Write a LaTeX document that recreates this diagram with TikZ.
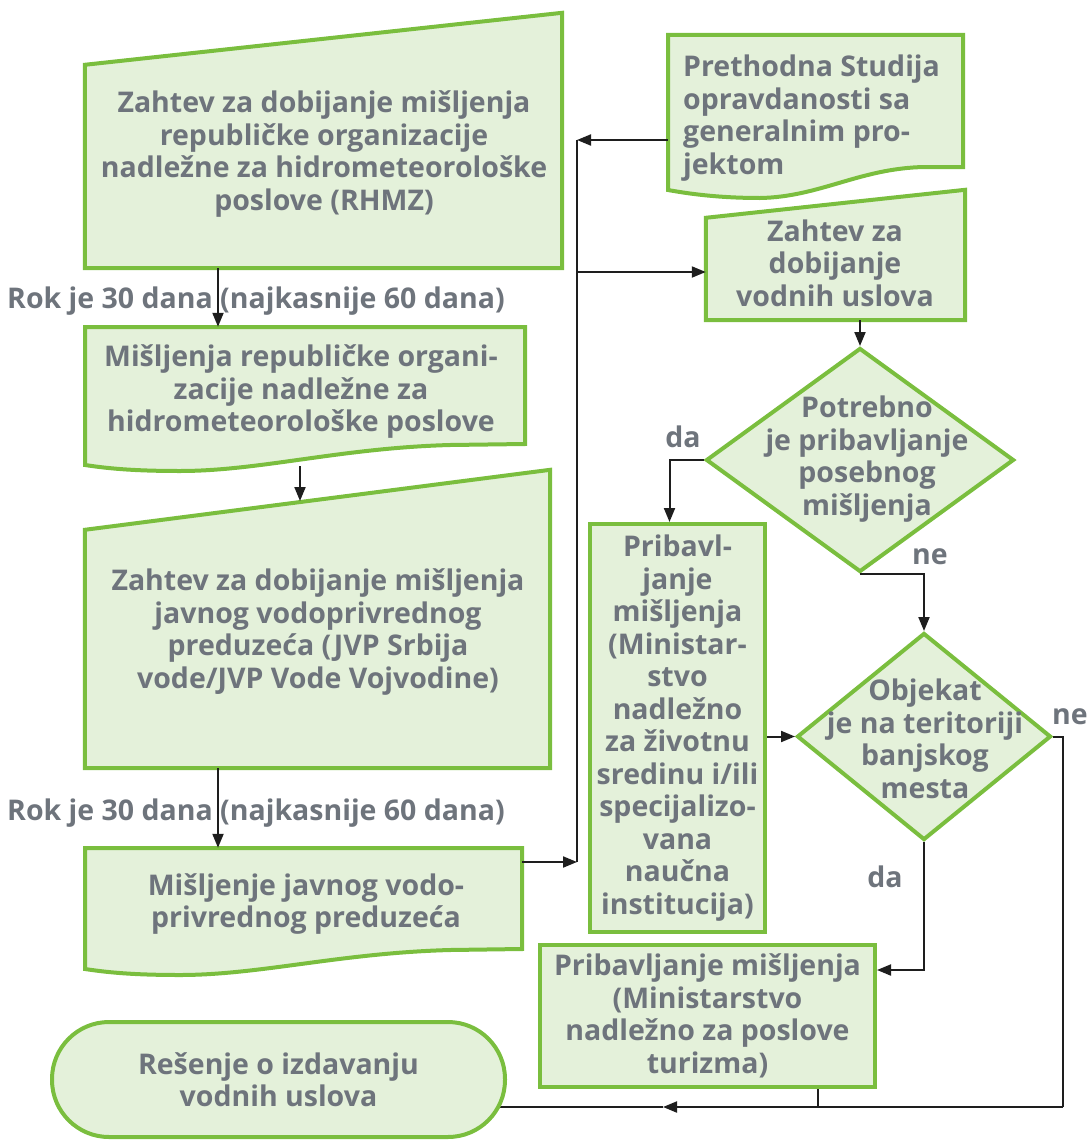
\documentclass[tikz,border=0pt]{standalone}
\usepackage{fontspec}
\setmainfont{Open Sans}
\usetikzlibrary{arrows.meta,shapes.geometric,calc}
\definecolor{frame}{RGB}{122,190,62}
\definecolor{paper}{RGB}{228,241,218}
\definecolor{ink}{RGB}{110,116,124}
\definecolor{wirec}{RGB}{30,30,30}
\pgfdeclarelayer{background}
\pgfsetlayers{background,main}
\begin{document}
\begin{tikzpicture}[x=1pt,y=-1pt,
  txt/.style={text=ink,font=\fontsize{28.5}{32.5}\selectfont\bfseries,align=center,inner sep=0pt},
  shapeline/.style={draw=frame,fill=paper,line width=4pt,line join=miter},
  bbox/.style={draw=none,inner sep=0pt},
  wire/.style={draw=wirec,line width=2pt},
  arr/.style={wire,-{Triangle[length=14pt,width=11pt]}},
  box/.style={shapeline,txt,rectangle}]
\useasboundingbox (0,0) rectangle (1088,1140);

% ---- left column ----
\node[bbox,minimum width=477,minimum height=255] (b1) at (323.5,140.5) {};
\path[shapeline] (b1.south west) -- (b1.south east) -- (b1.north east) -- ($(b1.north west)+(0,52)$) -- cycle;
\node[txt] (b1t) at (324,154) {Zahtev za dobijanje mišljenja\\republičke organizacije\\nadležne za hidrometeorološke\\poslove (RHMZ)};

\node[bbox,minimum width=440,minimum height=144] (b2) at (305,399) {};
\path[shapeline] (85,327) -- (525,327) -- (525,444) -- (450,445)
  .. controls (340,448) and (260,471) .. (180,471)
  .. controls (130,471) and (105,468) .. (85,465) -- cycle;
\node[txt] (b2t) at (301,392) {Mišljenja republičke organi-\\zacije nadležne za\\hidrometeorološke poslove};

\node[bbox,minimum width=465,minimum height=298] (b3) at (317.5,619) {};
\path[shapeline] (b3.south west) -- (b3.south east) -- (b3.north east) -- ($(b3.north west)+(0,60)$) -- cycle;
\node[txt] (b3t) at (318,632) {Zahtev za dobijanje mišljenja\\javnog vodoprivrednog\\preduzeća (JVP Srbija\\vode/JVP Vode Vojvodine)};

\node[bbox,minimum width=437,minimum height=127] (b4) at (303.5,911.5) {};
\path[shapeline] (85,848) -- (522,848) -- (522,949) -- (450,950)
  .. controls (340,953) and (260,975) .. (180,975)
  .. controls (130,975) and (105,972) .. (85,969) -- cycle;
\node[txt] (b4t) at (306,904) {Mišljenje javnog vodo-\\privrednog preduzeća};

\node[box,rounded corners=57pt,minimum width=453,minimum height=115] (term) at (278.5,1079.5) {Rešenje o izdavanju\\vodnih uslova};

\node[txt] (r1) at (256,301) {Rok je 30 dana (najkasnije 60 dana)};
\node[txt] (r2) at (256,813) {Rok je 30 dana (najkasnije 60 dana)};

% ---- right column ----
\node[bbox,minimum width=295,minimum height=163] (b5) at (815.5,116.5) {};
\path[shapeline] (668,35) -- (963,35) -- (963,167) -- (925,167)
  .. controls (860,168) and (820,197) .. (760,198)
  .. controls (720,198) and (690,194) .. (668,190) -- cycle;
\node[txt,align=left,anchor=west] (b5t) at (683,118) {Prethodna Studija\\opravdanosti sa\\generalnim pro-\\jektom};

\node[bbox,minimum width=259,minimum height=130] (b6) at (835.5,255) {};
\path[shapeline] (b6.south west) -- (b6.south east) -- (b6.north east) -- ($(b6.north west)+(0,28)$) -- cycle;
\node[txt] (b6t) at (835,263) {Zahtev za\\dobijanje\\vodnih uslova};

\node[shapeline,diamond,inner sep=0pt,minimum width=308,minimum height=224] (d1) at (860,460) {};
\node[txt] (d1t) at (867,459) {Potrebno\\je pribavljanje\\posebnog\\mišljenja};

\node[box,minimum width=175,minimum height=408] (b7) at (677.5,728) {Pribavl-\\janje\\mišljenja\\(Ministar-\\stvo\\nadležno\\za životnu\\sredinu i/ili\\specijalizo-\\vana\\naučna\\institucija)};

\node[shapeline,diamond,inner sep=0pt,minimum width=254,minimum height=207] (d2) at (924,736.5) {};
\node[txt] (d2t) at (925,739) {Objekat\\je na teritoriji\\banjskog\\mesta};

\node[box,minimum width=335,minimum height=142] (b8) at (707.5,1016) {Pribavljanje mišljenja\\(Ministarstvo\\nadležno za poslove\\turizma)};

\node[txt] (da1) at (683,437) {da};
\node[txt] (ne1) at (930,557) {ne};
\node[txt] (ne2) at (1070,717) {ne};
\node[txt] (da2) at (885,877) {da};

% ---- connectors ----
\coordinate (c1) at (218,0);
\draw[arr] (b1.south -| c1) -- (b2.north -| c1);
\coordinate (w2) at (300,466);
\coordinate (m3) at (300,501);
\draw[arr] (w2) -- (m3);
\draw[arr] (b3.south -| c1) -- (b4.north -| c1);

\coordinate (bt) at (577,140);
\coordinate (bm) at (577,272);
\coordinate (bb) at (577,862);
\draw[arr] (b5.west |- bt) -- (bt);
\draw[wire] (bt) -- (bb);
\draw[arr] (bm) -- (bm -| b6.west);
\draw[arr] (b4.east |- bb) -- (bb);

\draw[arr] (d1.north |- b6.south) -- (d1.north);
\draw[arr] (d1.west) -| ($(b7.north)+(-8,0)$);
\draw[arr] (d1.south) -| (d2.north);
\draw[arr] (d2.west -| b7.east) -- (d2.west);
\coordinate (yb8) at (0,970);
\draw[arr] (d2.south) |- (b8.east |- yb8);

\coordinate (rb) at (1063,1107);
\coordinate (tip) at (663,1107);
\coordinate (jb) at (818,1107);
\draw[wire] (d2.east) -| (rb);
\draw[arr] (rb) -- (tip);
\draw[wire] (b8.south -| jb) -- (jb);
\begin{pgfonlayer}{background}
\draw[wire] (tip) -- (term.center |- tip);
\end{pgfonlayer}
\end{tikzpicture}
\end{document}
